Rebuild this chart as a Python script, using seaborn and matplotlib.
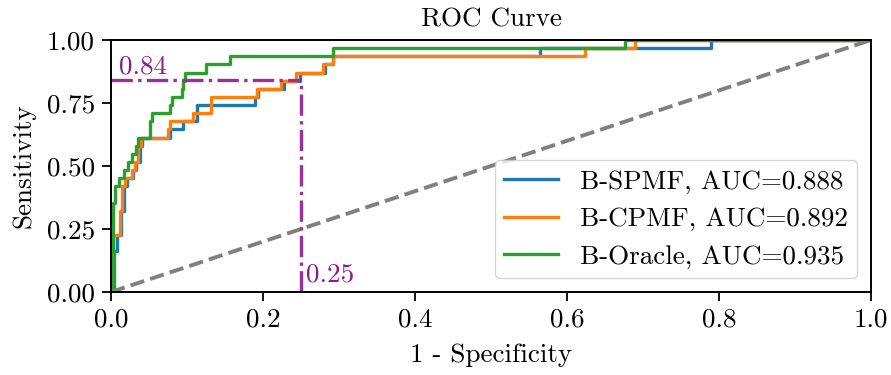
import matplotlib
matplotlib.use("Agg")
import matplotlib.pyplot as plt
import seaborn as sns
import pandas as pd

# ---- data ----
models = ["B-SPMF, AUC=0.888", "B-CPMF, AUC=0.892", "B-Oracle, AUC=0.935"]

fpr_spmf = [0.0, 0.004, 0.004, 0.008, 0.008, 0.013, 0.013, 0.017, 0.017, 0.021, 0.021, 0.029, 0.029, 0.033,
            0.033, 0.038, 0.038, 0.041, 0.041, 0.078, 0.078, 0.095, 0.095, 0.113, 0.113, 0.190, 0.190, 0.194,
            0.194, 0.228, 0.228, 0.249, 0.249, 0.281, 0.281, 0.292, 0.292, 0.565, 0.565, 0.789, 0.789, 1.0]
tpr_spmf = [0.0, 0.0, 0.161, 0.161, 0.226, 0.226, 0.323, 0.323, 0.419, 0.419, 0.452, 0.452, 0.484, 0.484,
            0.516, 0.516, 0.581, 0.581, 0.613, 0.613, 0.645, 0.645, 0.677, 0.677, 0.742, 0.742, 0.774, 0.774,
            0.806, 0.806, 0.839, 0.839, 0.871, 0.871, 0.903, 0.903, 0.935, 0.935, 0.968, 0.968, 1.0, 1.0]

fpr_cpmf = [0.0, 0.003, 0.003, 0.012, 0.012, 0.015, 0.015, 0.019, 0.019, 0.027, 0.027, 0.031, 0.031, 0.036,
            0.036, 0.039, 0.039, 0.075, 0.075, 0.078, 0.078, 0.108, 0.108, 0.131, 0.131, 0.192, 0.192, 0.224,
            0.224, 0.244, 0.244, 0.279, 0.279, 0.292, 0.292, 0.624, 0.624, 0.689, 0.689, 1.0]
tpr_cpmf = [0.0, 0.0, 0.226, 0.226, 0.323, 0.323, 0.419, 0.419, 0.452, 0.452, 0.484, 0.484, 0.516, 0.516,
            0.581, 0.581, 0.613, 0.613, 0.645, 0.645, 0.677, 0.677, 0.710, 0.710, 0.774, 0.774, 0.806, 0.806,
            0.839, 0.839, 0.871, 0.871, 0.903, 0.903, 0.935, 0.935, 0.968, 0.968, 1.0, 1.0]

fpr_oracle = [0.0, 0.002, 0.002, 0.005, 0.005, 0.010, 0.010, 0.017, 0.017, 0.023, 0.023, 0.028, 0.028, 0.033,
              0.033, 0.035, 0.035, 0.051, 0.051, 0.054, 0.054, 0.077, 0.077, 0.080, 0.080, 0.093, 0.093, 0.095,
              0.095, 0.097, 0.097, 0.125, 0.125, 0.156, 0.156, 0.2925, 0.2925, 0.676, 0.676, 1.0]
tpr_oracle = [0.0, 0.0, 0.355, 0.355, 0.419, 0.419, 0.452, 0.452, 0.484, 0.484, 0.516, 0.516, 0.548, 0.548,
              0.581, 0.581, 0.613, 0.613, 0.677, 0.677, 0.710, 0.710, 0.742, 0.742, 0.774, 0.774, 0.806, 0.806,
              0.839, 0.839, 0.871, 0.871, 0.903, 0.903, 0.935, 0.935, 0.968, 0.968, 1.0, 1.0]

chance_x = [0.0, 1.0]
chance_y = [0.0, 1.0]

cut_fpr = 0.25
cut_tpr = 0.84
cut_fpr_label = "0.25"
cut_tpr_label = "0.84"

x_ticks = [0.0, 0.2, 0.4, 0.6, 0.8, 1.0]
x_ticklabels = ["0.0", "0.2", "0.4", "0.6", "0.8", "1.0"]
y_ticks = [0.0, 0.25, 0.5, 0.75, 1.0]
y_ticklabels = ["0.00", "0.25", "0.50", "0.75", "1.00"]

# ---- style ----
plt.rcParams["font.family"] = ["cmr10", "DejaVu Serif"]
plt.rcParams["mathtext.fontset"] = "cm"
plt.rcParams["axes.formatter.use_mathtext"] = True
FS = 19.5

colors = ["#1f77b4", "#ff7f0e", "#2ca02c"]

fig = plt.figure(figsize=(8.91, 3.75), dpi=100)
ax = fig.add_axes([111 / 891, 83 / 375, 760 / 891, 252 / 375])

curves = [(fpr_spmf, tpr_spmf), (fpr_cpmf, tpr_cpmf), (fpr_oracle, tpr_oracle)]
for (fx, ty), name, c in zip(curves, models, colors):
    df = pd.DataFrame({"fpr": fx, "tpr": ty})
    sns.lineplot(data=df, x="fpr", y="tpr", sort=False, estimator=None, ax=ax,
                 color=c, linewidth=2.4, label=name)

sns.lineplot(x=chance_x, y=chance_y, ax=ax, color="gray", linestyle="--", linewidth=2.8, legend=False)

purple = "#9b309b"
ax.plot([0, cut_fpr], [cut_tpr, cut_tpr], color=purple, linestyle="-.", linewidth=2.4)
ax.plot([cut_fpr, cut_fpr], [0, cut_tpr], color=purple, linestyle="-.", linewidth=2.4)
ax.text(0.01, cut_tpr + 0.008, cut_tpr_label, color="#8b1a8b", fontsize=FS, ha="left", va="bottom")
ax.text(cut_fpr + 0.006, 0.02, cut_fpr_label, color="#8b1a8b", fontsize=FS, ha="left", va="bottom")

ax.set_xlim(0, 1)
ax.set_ylim(0, 1)
ax.set_xticks(x_ticks)
ax.set_xticklabels(x_ticklabels)
ax.set_yticks(y_ticks)
ax.set_yticklabels(y_ticklabels)
ax.tick_params(labelsize=FS, length=6.5, width=1.3, direction="out", pad=5)
for s in ax.spines.values():
    s.set_linewidth(1.4)
    s.set_color("black")

ax.set_title("ROC Curve", fontsize=FS, pad=10)
ax.set_xlabel("1 - Specificity", fontsize=FS, labelpad=8)
ax.set_ylabel("Sensitivity", fontsize=FS, labelpad=8)

leg = ax.legend(loc="lower right", fontsize=FS, handlelength=2.0, labelspacing=0.5,
                borderpad=0.35, framealpha=0.8)

fig.savefig("out.png", dpi=100)
